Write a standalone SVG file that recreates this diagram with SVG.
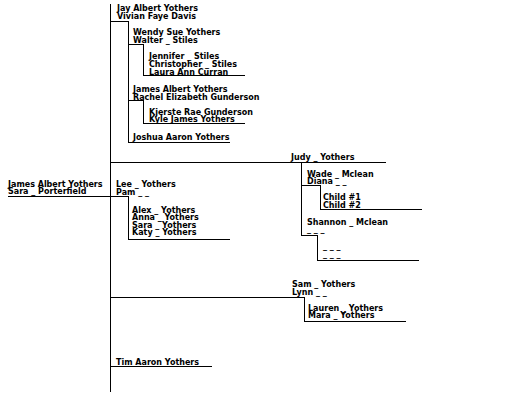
<svg xmlns="http://www.w3.org/2000/svg" width="525" height="400" viewBox="0 0 525 400">
<style>
text{font-family:"DejaVu Sans",Verdana,"Liberation Sans",sans-serif;font-size:8px;font-weight:bold;fill:#000}
.c{fill:none;stroke:#000;stroke-width:1;shape-rendering:crispEdges}
</style>
<rect width="525" height="400" fill="#fff"/>
<g id="connectors">
<line class="c" x1="110.5" y1="4" x2="110.5" y2="392"/>
<polyline class="c" points="110.5,21.5 128.5,21.5 128.5,142.5 230,142.5"/>
<polyline class="c" points="128.5,44.5 143.5,44.5 143.5,75.5 245,75.5"/>
<polyline class="c" points="128.5,100.5 143.5,100.5 143.5,123.5 245,123.5"/>
<polyline class="c" points="8,196.5 128.5,196.5 128.5,239.5 230,239.5"/>
<polyline class="c" points="110.5,162.5 386,162.5"/>
<polyline class="c" points="301.5,162.5 301.5,235.5 317.5,235.5 317.5,260.5 419,260.5"/>
<polyline class="c" points="301.5,185.5 320.5,185.5 320.5,209.5 422,209.5"/>
<polyline class="c" points="110.5,297.5 304.5,297.5 304.5,321.5 406,321.5"/>
<polyline class="c" points="110.5,366.5 212,366.5"/>
</g>
<g id="jay"><text x="117" y="10.5">Jay Albert Yothers</text><text x="117" y="18.5">Vivian Faye Davis</text></g>
<g id="wendy"><text x="133" y="34.5">Wendy Sue Yothers</text><text x="133" y="42.5">Walter _ Stiles</text></g>
<g id="wendy-children"><text x="149" y="58.5">Jennifer _ Stiles</text><text x="149" y="66.5">Christopher _ Stiles</text><text x="149" y="74.5">Laura Ann Curran</text></g>
<g id="james"><text x="133" y="91.5">James Albert Yothers</text><text x="133" y="99.5">Rachel Elizabeth Gunderson</text></g>
<g id="james-children"><text x="149" y="114.5">Kjerste Rae Gunderson</text><text x="149" y="122">Kyle James Yothers</text></g>
<g id="joshua"><text x="133" y="140">Joshua Aaron Yothers</text></g>
<g id="root"><text x="8" y="186.5">James Albert Yothers</text><text x="8" y="194">Sara _ Porterfield</text></g>
<g id="lee"><text x="116" y="187">Lee _ Yothers</text><text x="116" y="195">Pam _ _</text></g>
<g id="lee-children"><text x="132" y="212.5">Alex _ Yothers</text><text x="132" y="220">Anna _ Yothers</text><text x="132" y="227.5">Sara _ Yothers</text><text x="132" y="235">Katy _ Yothers</text></g>
<g id="judy"><text x="291" y="160">Judy _ Yothers</text></g>
<g id="wade"><text x="307" y="176.5">Wade _ Mclean</text><text x="307" y="184">Diana _ _</text></g>
<g id="wade-children"><text x="323" y="200">Child #1</text><text x="323" y="207.5">Child #2</text></g>
<g id="shannon"><text x="307" y="224.5">Shannon _ Mclean</text><text x="307" y="232">_ _ _</text></g>
<g id="shannon-children"><text x="323" y="248.5">_ _ _</text><text x="323" y="256.5">_ _ _</text></g>
<g id="sam"><text x="292" y="287">Sam _ Yothers</text><text x="292" y="294.5">Lynn _ _</text></g>
<g id="sam-children"><text x="308" y="310.5">Lauren _ Yothers</text><text x="308" y="318">Mara _ Yothers</text></g>
<g id="tim"><text x="116" y="365">Tim Aaron Yothers</text></g>
</svg>
